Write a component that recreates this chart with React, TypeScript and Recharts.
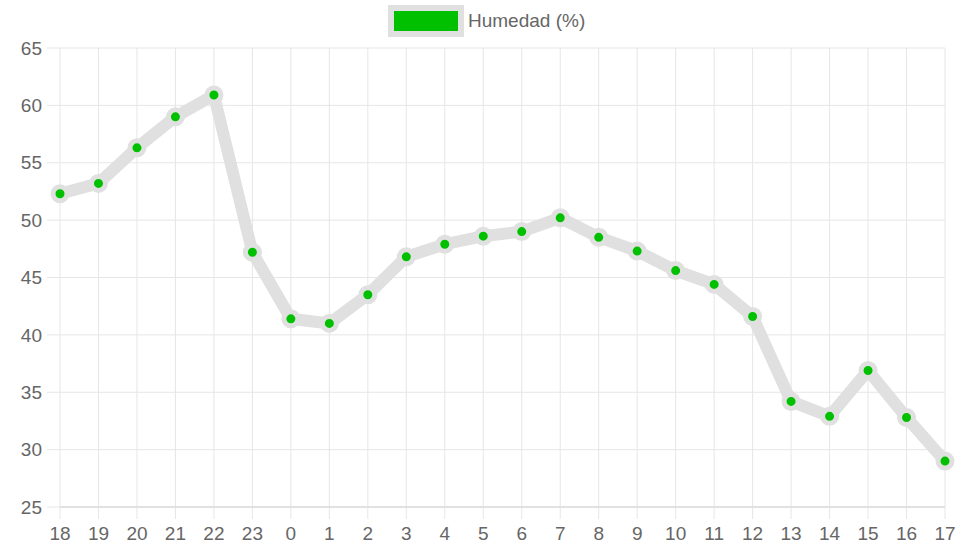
import { LineChart, Line, XAxis, YAxis, CartesianGrid } from "recharts"

const hours = ["18", "19", "20", "21", "22", "23", "0", "1", "2", "3", "4", "5", "6", "7", "8", "9", "10", "11", "12", "13", "14", "15", "16", "17"]
const humidity = [52.3, 53.2, 56.3, 59.0, 60.9, 47.2, 41.4, 41.0, 43.5, 46.8, 47.9, 48.6, 49.0, 50.2, 48.5, 47.3, 45.6, 44.4, 41.6, 34.2, 32.9, 36.9, 32.8, 29.0]
const yTicks = [25, 30, 35, 40, 45, 50, 55, 60, 65]

const data = hours.map((h, i) => ({ hour: h, value: humidity[i] }))

const FONT = "'Liberation Sans', Arial, Helvetica, sans-serif"
const GRID = "#e6e6e6"
const TEXT = "#666"
const GREEN = "#00c000"
const LINE_GRAY = "#e0e0e0"

export default function App() {
  return (
    <div style={{ position: "absolute", left: 0, top: 0, width: 957, height: 551, background: "#fff", fontFamily: FONT }}>
      {/* legend */}
      <div style={{ position: "absolute", left: 388, top: 5, display: "flex", alignItems: "center" }}>
        <div style={{ width: 64, height: 20, background: GREEN, border: `6px solid ${LINE_GRAY}` }} />
        <span style={{ marginLeft: 4, fontSize: 19, color: TEXT, lineHeight: "32px" }}>Humedad (%)</span>
      </div>
      <LineChart width={957} height={551} data={data} margin={{ top: 48, right: 12, bottom: 0, left: 0 }}>
        <CartesianGrid stroke={GRID} strokeWidth={1} />
        <XAxis
          dataKey="hour"
          height={44}
          interval={0}
          padding={{ left: 0, right: 0 }}
          axisLine={{ stroke: "#d0d0d0" }}
          tickLine={{ stroke: GRID }}
          tickSize={12}
          tickMargin={8}
          tick={{ fill: TEXT, fontSize: 19, fontFamily: FONT }}
        />
        <YAxis
          width={60}
          domain={[25, 65]}
          ticks={yTicks}
          interval={0}
          axisLine={false}
          tickLine={{ stroke: GRID }}
          tickSize={13}
          tickMargin={5}
          tick={{ fill: TEXT, fontSize: 19, fontFamily: FONT }}
        />
        <Line
          type="linear"
          dataKey="value"
          stroke={LINE_GRAY}
          strokeWidth={12}
          dot={{ r: 7, fill: GREEN, stroke: LINE_GRAY, strokeWidth: 5 }}
          activeDot={false}
          isAnimationActive={false}
        />
      </LineChart>
    </div>
  )
}
